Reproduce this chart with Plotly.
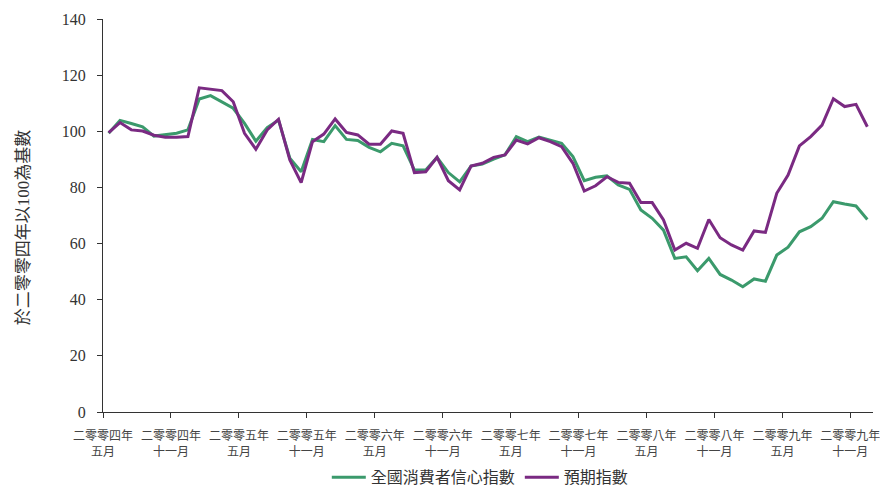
import plotly.graph_objects as go

# Monthly index values, May 2004 – Dec 2009 (2004 = 100)
months = list(range(68))
consumer_confidence = [
    99.3, 103.9, 102.8, 101.6, 98.3, 98.8, 99.3, 100.5, 111.5, 112.7,
    110.5, 108.2, 102.8, 96.5, 101.3, 104.0, 90.4, 85.6, 97.1, 96.3,
    102.0, 97.1, 96.7, 94.3, 92.7, 95.7, 94.8, 86.2, 86.2, 90.7,
    85.3, 82.0, 87.6, 88.3, 90.1, 91.6, 98.1, 96.3, 97.9, 96.7,
    95.7, 91.0, 82.4, 83.6, 84.1, 80.9, 79.3, 72.0, 69.0, 64.8,
    54.7, 55.3, 50.3, 54.7, 49.0, 47.0, 44.6, 47.4, 46.6, 55.9,
    58.7, 64.2, 66.0, 69.0, 74.9, 74.1, 73.4, 68.6,
]
expectations = [
    99.5, 103.1, 100.5, 100.1, 98.6, 97.9, 97.9, 98.1, 115.5, 115.1,
    114.5, 110.5, 99.3, 93.6, 100.5, 104.3, 89.8, 81.7, 96.3, 99.0,
    104.4, 99.6, 98.7, 95.4, 95.4, 100.1, 99.3, 85.3, 85.6, 90.7,
    82.4, 79.1, 87.6, 88.6, 90.7, 91.6, 96.9, 95.5, 97.7, 96.3,
    94.5, 88.6, 78.7, 80.6, 83.8, 81.8, 81.5, 74.6, 74.6, 68.4,
    57.7, 60.1, 58.3, 68.6, 62.1, 59.5, 57.7, 64.5, 64.0, 77.9,
    84.4, 94.8, 98.1, 102.2, 111.6, 108.8, 109.6, 101.6,
]

tick_positions = [-0.5 + 6 * k for k in range(12)]
tick_labels = [
    "二零零四年<br>五月", "二零零四年<br>十一月",
    "二零零五年<br>五月", "二零零五年<br>十一月",
    "二零零六年<br>五月", "二零零六年<br>十一月",
    "二零零七年<br>五月", "二零零七年<br>十一月",
    "二零零八年<br>五月", "二零零八年<br>十一月",
    "二零零九年<br>五月", "二零零九年<br>十一月",
]
y_ticks = [0, 20, 40, 60, 80, 100, 120, 140]
y_title = "於二零零四年以100為基數"

GREEN = "#3b9a6c"
PURPLE = "#7a2a82"
FONT = "Liberation Serif, Noto Sans CJK TC, serif"

fig = go.Figure()
fig.add_trace(go.Scatter(
    x=months, y=consumer_confidence, mode="lines", name="全國消費者信心指數",
    line=dict(color=GREEN, width=3),
))
fig.add_trace(go.Scatter(
    x=months, y=expectations, mode="lines", name="預期指數",
    line=dict(color=PURPLE, width=3),
))

fig.update_layout(
    width=880, height=490,
    margin=dict(l=103, r=7, t=19, b=78, autoexpand=False),
    paper_bgcolor="white", plot_bgcolor="white",
    font=dict(family=FONT, color="#333333"),
    showlegend=True,
    legend=dict(
        orientation="h", x=0.49, xanchor="center", y=-0.166, yanchor="middle",
        font=dict(size=16, family=FONT, color="#333333"),
        itemwidth=34, tracegroupgap=0,
    ),
    annotations=[dict(
        text=y_title, textangle=-90, xref="paper", yref="paper",
        x=(23 - 103) / 770, y=0.47, xanchor="center", yanchor="middle",
        showarrow=False, font=dict(size=17, family=FONT, color="#333333"),
    )],
)
fig.update_xaxes(
    range=[-0.5, 67.5], automargin=False,
    tickmode="array", tickvals=tick_positions, ticktext=tick_labels,
    ticks="outside", ticklen=5, tickcolor="#333333", tickwidth=1,
    ticklabelstandoff=8, ticklabeloverflow="allow",
    showline=True, linecolor="#333333", linewidth=1,
    showgrid=False, zeroline=False,
    tickfont=dict(size=12, family=FONT, color="#444444"),
)
fig.update_yaxes(
    range=[0, 140], automargin=False,
    tickmode="array", tickvals=y_ticks,
    ticks="outside", ticklen=5, tickcolor="#333333", tickwidth=1,
    ticklabelstandoff=8,
    showline=True, linecolor="#333333", linewidth=1,
    showgrid=False, zeroline=False,
    tickfont=dict(size=16, family=FONT, color="#333333"),
)

fig.write_html("out.html")
